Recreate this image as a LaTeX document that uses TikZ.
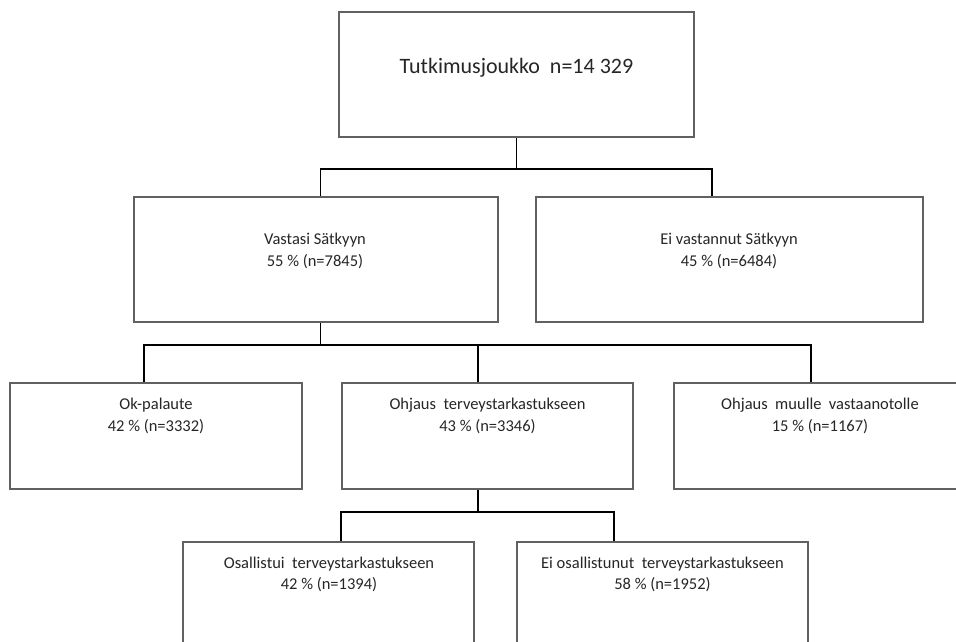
\documentclass[tikz,border=0pt]{standalone}
\usepackage{fontspec}
\setmainfont{Carlito}
\begin{document}
\begin{tikzpicture}[x=1pt,y=-1pt,
  box/.style={draw=black!62, line width=1.1pt, rectangle, inner sep=0pt},
  conn/.style={draw=black, line width=1.9pt},
  lbl/.style={anchor=base, align=center, inner sep=0pt, text=black!85,
    font=\fontsize{16.5}{21.5}\selectfont},
  ttl/.style={anchor=base, inner sep=0pt, text=black!85,
    font=\fontsize{22}{26}\selectfont}]
\useasboundingbox[fill=white] (0,0) rectangle (956,642);

% boxes
\node[box, minimum width=355pt, minimum height=125pt] (top)    at (516.5,74.5) {};
\node[box, minimum width=364pt, minimum height=125pt] (vast)   at (316,259.5)  {};
\node[box, minimum width=387pt, minimum height=125pt] (eivast) at (729.5,259.5) {};
\node[box, minimum width=292pt, minimum height=106pt] (ok)     at (156,436)    {};
\node[box, minimum width=291pt, minimum height=106pt] (ohjt)   at (487.5,436)  {};
\node[box, minimum width=292pt, minimum height=106pt] (ohjm)   at (820,436)    {};
\node[box, minimum width=291pt, minimum height=106pt] (osal)   at (328.5,595)  {};
\node[box, minimum width=291pt, minimum height=106pt] (eiosal) at (662.5,595)  {};

% texts (anchored at the baseline of the second line)
\node[ttl] (top-t)    at (516.5,74)  {Tutkimusjoukko\ \ n=14 329};
\node[lbl] (vast-t)   at (315,266)   {Vastasi Sätkyyn\\55 \% (n=7845)};
\node[lbl] (eivast-t) at (729,266)   {Ei vastannut Sätkyyn\\45 \% (n=6484)};
\node[lbl] (ok-t)     at (156,431)   {Ok-palaute\\42 \% (n=3332)};
\node[lbl] (ohjt-t)   at (487.5,431) {Ohjaus\ \ terveystarkastukseen\\43 \% (n=3346)};
\node[lbl] (ohjm-t)   at (820,431)   {Ohjaus\ \ muulle\ \ vastaanotolle\\15 \% (n=1167)};
\node[lbl] (osal-t)   at (329,589.5) {Osallistui\ \ terveystarkastukseen\\42 \% (n=1394)};
\node[lbl] (eiosal-t) at (662.5,589.5) {Ei osallistunut\ \ terveystarkastukseen\\58 \% (n=1952)};

% connectors
\draw[conn] (top.south) -- ++(0,31) coordinate (j1);
\draw[conn] ([xshift=4.5pt]vast.north) |- (j1) -| ([xshift=-17.5pt]eivast.north);

\draw[conn] ([xshift=4.5pt]vast.south) -- ++(0,22.5) coordinate (j2);
\draw[conn] ([xshift=-12pt]ok.north) |- (j2) -| ([xshift=-9pt]ohjm.north);
\draw[conn] ([xshift=-9.5pt]ohjt.north) -- ([xshift=-9.5pt]ohjt.north |- j2);

\draw[conn] ([xshift=-9.5pt]ohjt.south) -- ++(0,22.5) coordinate (j3);
\draw[conn] ([xshift=12.5pt]osal.north) |- (j3) -| ([xshift=-48.5pt]eiosal.north);
\end{tikzpicture}
\end{document}
